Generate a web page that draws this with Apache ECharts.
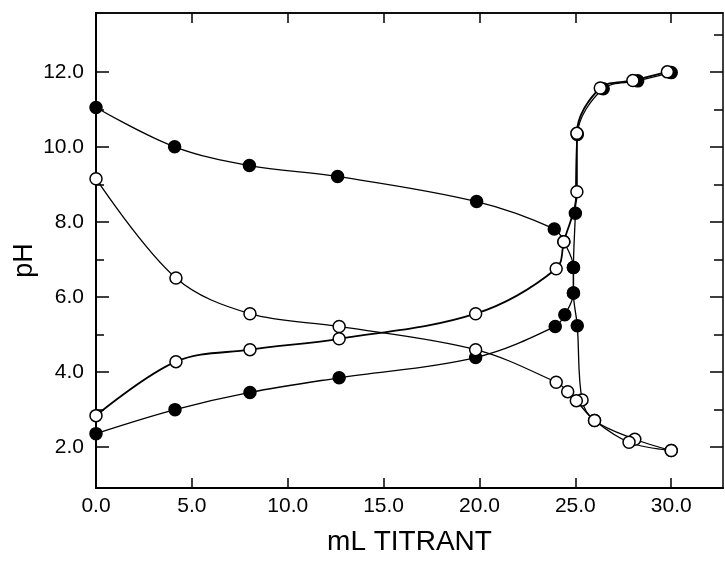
<!DOCTYPE html>
<html>
<head>
<meta charset="utf-8">
<script src="https://cdn.jsdelivr.net/npm/echarts@6/dist/echarts.min.js"></script>
<style>
    html, body { margin: 0; padding: 0; background: #fff; }
    #titration { width: 725px; height: 565px; }
</style>
</head>
<body>
<div id="titration"></div>
<script>
// filled dots, pH falling (base titrated with acid)
var filledDownX = [0, 4.1, 8.0, 12.6, 19.85, 23.9, 24.4, 24.9, 24.9, 25.1, 25.35, 26.0, 28.1, 30.0];
var filledDownY = [11.05, 10.0, 9.5, 9.21, 8.54, 7.81, 7.47, 6.78, 6.1, 5.23, 3.25, 2.7, 2.2, 1.9];
// from this index on the points of that curve are drawn as open circles
var filledDownOpenFrom = 10;

// filled dots, pH rising
var filledUpX = [0, 4.12, 8.03, 12.68, 19.8, 23.95, 24.45, 24.9, 24.9, 25.0, 25.1, 26.45, 28.25, 30.0];
var filledUpY = [2.35, 2.99, 3.45, 3.84, 4.38, 5.21, 5.52, 6.1, 6.78, 8.23, 10.33, 11.55, 11.76, 11.98];

// open circles, pH falling
var openDownX = [0, 4.17, 8.03, 12.68, 19.8, 24.0, 24.6, 25.05, 26.0, 27.8, 30.0];
var openDownY = [9.15, 6.5, 5.55, 5.21, 4.59, 3.72, 3.47, 3.23, 2.7, 2.12, 1.9];

// open circles, pH rising
var openUpX = [0, 4.17, 8.03, 12.68, 19.8, 24.0, 24.4, 25.08, 25.08, 26.3, 28.0, 29.8];
var openUpY = [2.83, 4.27, 4.59, 4.88, 5.55, 6.75, 7.47, 8.8, 10.36, 11.57, 11.77, 12.0];

var xLabelValues = [0, 5, 10, 15, 20, 25, 30];
var xTickValues = [5, 10, 15, 20, 25, 30];
var yLabelValues = [2, 4, 6, 8, 10, 12];
var yMinorLeft = [3, 5, 7, 9, 11];
var yMajorRight = [2, 4, 6, 8, 10, 12];
var yMinorRight = [3, 5, 7, 9, 11, 13];

var fontName = 'Liberation Sans';

function pairs(xs, ys) {
    return xs.map(function (x, i) {
        return [x, ys[i]];
    });
}

function curve(name, xs, ys, open, lineWidth) {
    return {
        name: name,
        type: 'line',
        data: pairs(xs, ys),
        smooth: 0.35,
        symbol: 'circle',
        symbolSize: 12,
        clip: false,
        lineStyle: { color: '#000', width: lineWidth },
        itemStyle: {
            color: open ? '#fff' : '#000',
            borderColor: '#000',
            borderWidth: 1.5
        },
        emphasis: { disabled: true },
        animation: false
    };
}

function yAxisPart(position, ticks, length, withLabels) {
    return {
        type: 'value',
        position: position,
        min: 0.9,
        max: 13.57,
        axisLine: { show: withLabels, lineStyle: { color: '#000', width: 2 } },
        axisTick: {
            show: true,
            inside: true,
            length: length,
            customValues: ticks,
            lineStyle: { color: '#000', width: 1.5 }
        },
        axisLabel: {
            show: withLabels,
            customValues: yLabelValues,
            margin: 12,
            color: '#000',
            fontFamily: fontName,
            fontSize: 21,
            formatter: function (v) { return v.toFixed(1); }
        },
        splitLine: { show: false }
    };
}

var chart = echarts.init(document.getElementById('titration'));

var leftMajor = yAxisPart('left', yLabelValues, 13, true);
leftMajor.name = 'pH';
leftMajor.nameLocation = 'middle';
leftMajor.nameRotate = 90;
leftMajor.nameGap = 58;
leftMajor.nameMoveOverlap = false;
leftMajor.nameTextStyle = { color: '#000', fontFamily: fontName, fontSize: 27, padding: [0, 20, 0, 0] };

var filledDown = curve('filledDown', filledDownX, filledDownY, false, 1.3);
filledDown.itemStyle.color = function (p) {
    return p.dataIndex >= filledDownOpenFrom ? '#fff' : '#000';
};

var option = {
    backgroundColor: '#fff',
    grid: {
        left: 96, right: 2, top: 13, bottom: 77,
        show: true,
        borderColor: '#000',
        borderWidth: 1.5
    },
    xAxis: [
        {
            type: 'value',
            position: 'bottom',
            min: 0,
            max: 32.7,
            name: 'mL TITRANT',
            nameLocation: 'middle',
            nameGap: 40,
            nameMoveOverlap: false,
            nameTextStyle: { color: '#000', fontFamily: fontName, fontSize: 28, verticalAlign: 'top' },
            axisLine: { lineStyle: { color: '#000', width: 2 } },
            axisTick: { inside: true, length: 10, customValues: xTickValues, lineStyle: { color: '#000', width: 1.5 } },
            axisLabel: {
                customValues: xLabelValues,
                margin: 8,
                color: '#000',
                fontFamily: fontName,
                fontSize: 21,
                formatter: function (v) { return v.toFixed(1); }
            },
            splitLine: { show: false }
        },
        {
            type: 'value',
            position: 'top',
            min: 0,
            max: 32.7,
            axisLine: { lineStyle: { color: '#000', width: 1.5 } },
            axisTick: { inside: true, length: 10, customValues: xTickValues, lineStyle: { color: '#000', width: 1.5 } },
            axisLabel: { show: false },
            splitLine: { show: false }
        }
    ],
    yAxis: [
        leftMajor,
        yAxisPart('left', yMinorLeft, 8, false),
        yAxisPart('right', yMajorRight, 13, false),
        yAxisPart('right', yMinorRight, 9, false)
    ],
    series: [
        filledDown,
        curve('filledUp', filledUpX, filledUpY, false, 1.3),
        curve('openDown', openDownX, openDownY, true, 1.3),
        curve('openUp', openUpX, openUpY, true, 1.8)
    ]
};

chart.setOption(option);
</script>
</body>
</html>
